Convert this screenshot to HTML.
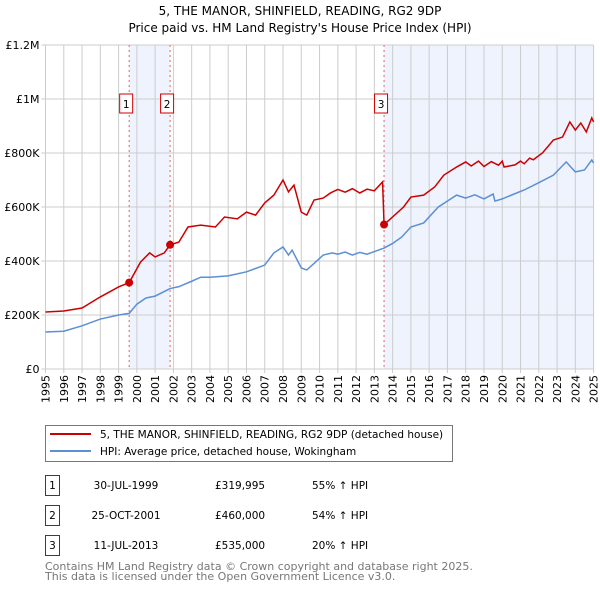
<!DOCTYPE html>
<html><head><meta charset="utf-8"><style>
body{margin:0;background:#fff;font-family:"DejaVu Sans","Liberation Sans",sans-serif;}
svg text{font-family:"DejaVu Sans","Liberation Sans",sans-serif;}
</style></head><body>
<svg id="c" width="600" height="590" xmlns="http://www.w3.org/2000/svg">
<text x="300" y="15" text-anchor="middle" font-size="12">5, THE MANOR, SHINFIELD, READING, RG2 9DP</text>
<text x="300" y="32" text-anchor="middle" font-size="12">Price paid vs. HM Land Registry's House Price Index (HPI)</text>
<g id="plot"></g>
<g>
<rect x="45.5" y="425.5" width="407" height="36" fill="#fff" stroke="#777"/>
<line x1="50" y1="434" x2="91" y2="434" stroke="#cc0000" stroke-width="2"/>
<text x="100" y="438" font-size="10.5">5, THE MANOR, SHINFIELD, READING, RG2 9DP (detached house)</text>
<line x1="50" y1="451" x2="91" y2="451" stroke="#5b8fd6" stroke-width="2"/>
<text x="100" y="455" font-size="10.5">HPI: Average price, detached house, Wokingham</text>
</g>
<g id="table" font-size="10.5"></g>
<text x="45" y="570" font-size="11" fill="#777">Contains HM Land Registry data © Crown copyright and database right 2025.</text>
<text x="45" y="580" font-size="11" fill="#777">This data is licensed under the Open Government Licence v3.0.</text>
</svg>
<script>
const hpiYears=[1995,1996,1997,1998,1999,1999.58,2000,2000.5,2001,2001.82,2002.3,2003,2003.5,2004,2005,2006,2007,2007.5,2008,2008.3,2008.5,2009,2009.3,2009.6,2010.2,2010.7,2011,2011.4,2011.8,2012.2,2012.6,2013,2013.53,2014,2014.5,2015,2015.7,2016.5,2017.5,2018,2018.5,2019,2019.5,2019.6,2020,2020.5,2021.2,2022,2022.8,2023.5,2024,2024.5,2024.9,2025];
const hpiValues=[137000,140000,160000,185000,200000,206000,240000,263000,270000,298000,305000,325000,340000,340000,345000,360000,385000,430000,452000,422000,440000,374000,367000,385000,422000,430000,425000,433000,422000,432000,425000,435000,448000,465000,489000,526000,541000,600000,644000,633000,645000,630000,648000,622000,630000,644000,663000,690000,718000,767000,730000,737000,774000,763000];
const redYears=[1995,1996,1997,1998,1999,1999.58,2000.2,2000.7,2001,2001.5,2001.82,2002.3,2002.8,2003.5,2004.3,2004.8,2005.5,2006,2006.5,2007,2007.5,2008,2008.3,2008.6,2009,2009.3,2009.7,2010.2,2010.6,2011,2011.4,2011.8,2012.2,2012.6,2013,2013.45,2013.53,2014,2014.6,2015,2015.7,2016.3,2016.8,2017.5,2018,2018.3,2018.7,2019,2019.4,2019.8,2020,2020.1,2020.7,2021,2021.2,2021.5,2021.7,2022.2,2022.8,2023.3,2023.7,2024,2024.3,2024.6,2024.9,2025];
const redValues=[211000,215000,226000,267000,304000,319995,396000,430000,415000,430000,460000,470000,526000,533000,526000,563000,556000,581000,570000,615000,644000,700000,656000,681000,581000,570000,626000,633000,652000,665000,655000,668000,652000,666000,660000,693000,535000,563000,600000,637000,644000,674000,718000,748000,767000,752000,770000,750000,768000,755000,770000,748000,756000,770000,760000,781000,775000,800000,848000,859000,915000,885000,911000,878000,930000,915000];
const saleLabels=["1","2","3"];
const saleYears=[1999.58,2001.82,2013.53];
const salePrices=[319995,460000,535000];
const saleDates=["30-JUL-1999","25-OCT-2001","11-JUL-2013"];
const salePriceText=["£319,995","£460,000","£535,000"];
const saleHpiText=["55% ↑ HPI","54% ↑ HPI","20% ↑ HPI"];
const yTicks=[0,200000,400000,600000,800000,1000000,1200000];
const yTickLabels=["£0","£200K","£400K","£600K","£800K","£1M","£1.2M"];
const xTicks=[1995,1996,1997,1998,1999,2000,2001,2002,2003,2004,2005,2006,2007,2008,2009,2010,2011,2012,2013,2014,2015,2016,2017,2018,2019,2020,2021,2022,2023,2024,2025];

const X0=45.5,X1=593.6,Y0=369,Y1=45;
const xs=y=>X0+(y-1995)/30*(X1-X0);
const ys=v=>Y0-v/1200000*(Y0-Y1);
const NS="http://www.w3.org/2000/svg";
const plot=document.getElementById('plot');
function mk(tag,attrs,parent){const e=document.createElementNS(NS,tag);for(const k in attrs)e.setAttribute(k,attrs[k]);(parent||plot).appendChild(e);return e;}
let sh=mk('rect',{x:xs(saleYears[0]),y:Y1,width:xs(saleYears[1])-xs(saleYears[0]),height:Y0-Y1,fill:'#eef3fd'});


let sh2=mk('rect',{x:xs(saleYears[2]),y:Y1,width:X1-xs(saleYears[2]),height:Y0-Y1,fill:'#eef3fd'});


xTicks.forEach(t=>{
 const g=mk('line',{x1:xs(t),x2:xs(t),y1:Y1,y2:Y0+4,stroke:'#cccccc','stroke-width':1});
 
 
 const tx=mk('text',{x:xs(t)+4,y:Y0+6,'text-anchor':'end','font-size':11,transform:`rotate(-90 ${xs(t)+4} ${Y0+6})`});
 tx.textContent=t;
 
 
});
yTicks.forEach((t,i)=>{
 const g=mk('line',{x1:X0-4,x2:X1,y1:ys(t),y2:ys(t),stroke:'#cccccc','stroke-width':1});
 
 
 const tx=mk('text',{x:X0-6,y:ys(t)+4,'text-anchor':'end','font-size':11});
 tx.textContent=yTickLabels[i];
 
 
});
saleYears.forEach((y,i)=>{
 const l=mk('line',{x1:xs(y),x2:xs(y),y1:Y1,y2:Y0,stroke:'#e06666','stroke-dasharray':'2,3','stroke-width':1});
 
 
 const bx=xs(y)-3;
 const r=mk('rect',{x:bx-6.5,y:94,width:13,height:19,fill:'#fff',stroke:'#cc0000'});
 
 
 const t=mk('text',{x:bx,y:108,'text-anchor':'middle','font-size':10.5});
 t.textContent=saleLabels[i];
 
 
});
const hp=mk('polyline',{points:hpiYears.map((y,i)=>xs(y)+','+ys(hpiValues[i])).join(' '),fill:'none',stroke:'#5b8fd6','stroke-width':1.5});


const rp=mk('polyline',{points:redYears.map((y,i)=>xs(y)+','+ys(redValues[i])).join(' '),fill:'none',stroke:'#cc0000','stroke-width':1.5});


saleYears.forEach((y,i)=>{
 const c=mk('circle',{cx:xs(y),cy:ys(salePrices[i]),r:4,fill:'#cc0000'});
 
 
});
const tb=document.getElementById('table');
saleLabels.forEach((s,i)=>{
 const y0=475+i*30;
 const r=mk('rect',{x:45.5,y:y0+0.5,width:14,height:20,fill:'#fff',stroke:'#cc0000'},tb);
 
 
 const cols=[[52.5,s,'middle'],[126,saleDates[i],'middle'],[215,salePriceText[i],'start'],[312,saleHpiText[i],'start']];
 cols.forEach(([x,txt,a],j)=>{
  const t=mk('text',{x:x,y:y0+14,'text-anchor':a},tb);
  t.textContent=txt;
  
  
 });
});
</script>
</body></html>
